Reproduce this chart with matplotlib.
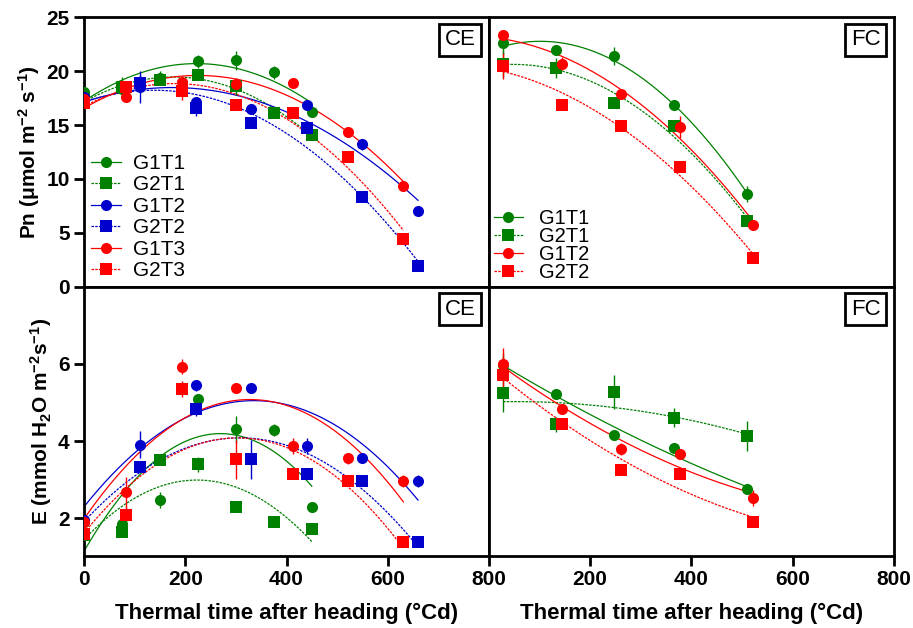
import numpy as np
import matplotlib
matplotlib.use("Agg")
import matplotlib.pyplot as plt
from matplotlib.lines import Line2D

plt.rcParams["font.family"] = ["Liberation Sans", "DejaVu Sans"]
plt.rcParams["mathtext.default"] = "regular"

GREEN = "#008000"
BLUE = "#0000CD"
RED = "#FF0000"

# ── CE: thermal time (°Cd) per temperature treatment ────────────────────────
ce_x_t1 = [0, 75, 150, 225, 300, 375, 450]
ce_x_t2 = [0, 110, 220, 330, 440, 550, 660]
ce_x_t3 = [0, 83, 193, 301, 412, 521, 631]

# Pn CE
pn_ce_g1t1 = [18.1, 18.3, 19.4, 20.9, 21.0, 19.9, 16.2]
pn_ce_g2t1 = [17.3, 18.5, 19.2, 19.6, 18.6, 16.1, 14.1]
pn_ce_g1t2 = [17.6, 18.5, 17.1, 16.5, 16.9, 13.2, 7.0]
pn_ce_g2t2 = [17.2, 18.9, 16.6, 15.2, 14.7, 8.3, 1.9]
pn_ce_g1t3 = [17.4, 17.6, 19.0, 18.8, 18.9, 14.4, 9.3]
pn_ce_g2t3 = [17.0, 18.5, 18.2, 16.9, 16.1, 12.0, 4.45]
pn_ce_err_g1t1 = [0.4, 0.4, 0.6, 0.6, 0.9, 0.6, 0.3]
pn_ce_err_g2t1 = [0.6, 1.0, 0.5, 0.3, 0.8, 0.3, 0.3]
pn_ce_err_g1t2 = [0.3, 1.5, 0.5, 0.3, 0.3, 0.5, 0.4]
pn_ce_err_g2t2 = [0.3, 0.7, 0.8, 0.3, 0.3, 0.3, 0.2]
pn_ce_err_g1t3 = [0.3, 0.3, 0.3, 0.6, 0.3, 0.3, 0.3]
pn_ce_err_g2t3 = [0.3, 0.6, 0.9, 0.3, 0.3, 0.3, 0.3]

# E CE
e_ce_g1t1 = [1.91, 1.85, 2.47, 5.10, 4.30, 4.28, 2.28]
e_ce_g2t1 = [1.57, 1.65, 3.52, 3.40, 2.30, 1.90, 1.72]
e_ce_g1t2 = [1.95, 3.91, 5.44, 5.37, 3.87, 3.55, 2.97]
e_ce_g2t2 = [1.60, 3.33, 4.84, 3.53, 3.14, 2.97, 1.38]
e_ce_g1t3 = [1.90, 2.67, 5.93, 5.37, 3.87, 3.55, 2.97]
e_ce_g2t3 = [1.60, 2.09, 5.35, 3.53, 3.14, 2.97, 1.38]
e_ce_err_g1t1 = [0.1, 0.1, 0.2, 0.1, 0.35, 0.15, 0.1]
e_ce_err_g2t1 = [0.1, 0.1, 0.15, 0.2, 0.1, 0.1, 0.1]
e_ce_err_g1t2 = [0.1, 0.35, 0.15, 0.1, 0.2, 0.1, 0.15]
e_ce_err_g2t2 = [0.1, 0.1, 0.2, 0.5, 0.1, 0.1, 0.1]
e_ce_err_g1t3 = [0.1, 0.4, 0.2, 0.1, 0.2, 0.15, 0.15]
e_ce_err_g2t3 = [0.1, 0.2, 0.2, 0.5, 0.1, 0.1, 0.1]

# ── FC ───────────────────────────────────────────────────────────────────────
fc_x_t1 = [28, 133, 248, 366, 510]
fc_x_t2 = [28, 145, 260, 378, 521]

pn_fc_g1t1 = [22.6, 22.0, 21.4, 16.9, 8.6]
pn_fc_g2t1 = [20.7, 20.3, 17.0, 14.9, 6.1]
pn_fc_g1t2 = [23.4, 20.7, 17.9, 14.8, 5.7]
pn_fc_g2t2 = [20.5, 16.9, 14.9, 11.1, 2.7]
pn_fc_err_g1t1 = [1.0, 0.4, 0.8, 0.4, 0.7]
pn_fc_err_g2t1 = [1.2, 0.9, 0.3, 0.4, 0.3]
pn_fc_err_g1t2 = [0.3, 0.6, 0.3, 1.0, 0.3]
pn_fc_err_g2t2 = [1.2, 0.3, 0.3, 0.3, 0.5]

e_fc_g1t1 = [5.97, 5.21, 4.17, 3.81, 2.76]
e_fc_g2t1 = [5.25, 4.43, 5.27, 4.61, 4.13]
e_fc_g1t2 = [6.00, 4.82, 3.79, 3.66, 2.53]
e_fc_g2t2 = [5.72, 4.43, 3.26, 3.14, 1.90]
e_fc_err_g1t1 = [0.3, 0.1, 0.05, 0.05, 0.05]
e_fc_err_g2t1 = [0.5, 0.2, 0.45, 0.25, 0.4]
e_fc_err_g1t2 = [0.4, 0.1, 0.15, 0.05, 0.2]
e_fc_err_g2t2 = [0.45, 0.05, 0.05, 0.05, 0.05]

DOT = (0, (2, 1))
MS = 8


def draw(ax, x, y, err, color, marker, ls):
    ax.errorbar(x, y, yerr=err, fmt=marker, color=color, ms=MS, mew=0,
                ecolor=color, elinewidth=1, capsize=3.8, capthick=1, zorder=3)
    c = np.polyfit(x, y, 2)
    xs = np.linspace(min(x), max(x), 200)
    ax.plot(xs, np.polyval(c, xs), color=color, lw=0.9, ls=ls, zorder=2)


def handle(color, marker, ls):
    return Line2D([], [], color=color, marker=marker, ms=MS, mew=0, lw=0.9, ls=ls)


def style(ax, label):
    for s in ax.spines.values():
        s.set_linewidth(2)
    ax.set_xlim(0, 800)
    ax.tick_params(width=2, length=7, labelsize=15)
    for t in ax.get_xticklabels() + ax.get_yticklabels():
        t.set_fontweight("bold")
    ax.text(0.967, 0.955, label, transform=ax.transAxes, ha="right", va="top",
            fontsize=16, bbox=dict(boxstyle="square,pad=0.25", fc="white", ec="black", lw=2))


fig = plt.figure(figsize=(9.13, 6.28), dpi=100)
L, M, R = 0.0923, 0.5354, 0.9792
B, MID, T = 0.1151, 0.5435, 0.9725
ax1 = fig.add_axes([L, MID, M - L, T - MID])
ax2 = fig.add_axes([M, MID, R - M, T - MID])
ax3 = fig.add_axes([L, B, M - L, MID - B])
ax4 = fig.add_axes([M, B, R - M, MID - B])

# ── Pn CE ───────────────────────────────────────────────────────────────────
draw(ax1, ce_x_t1, pn_ce_g1t1, pn_ce_err_g1t1, GREEN, "o", "-")
draw(ax1, ce_x_t1, pn_ce_g2t1, pn_ce_err_g2t1, GREEN, "s", DOT)
draw(ax1, ce_x_t2, pn_ce_g1t2, pn_ce_err_g1t2, BLUE, "o", "-")
draw(ax1, ce_x_t2, pn_ce_g2t2, pn_ce_err_g2t2, BLUE, "s", DOT)
draw(ax1, ce_x_t3, pn_ce_g1t3, pn_ce_err_g1t3, RED, "o", "-")
draw(ax1, ce_x_t3, pn_ce_g2t3, pn_ce_err_g2t3, RED, "s", DOT)
ax1.set_ylim(0, 25)
ax1.set_yticks([0, 5, 10, 15, 20, 25])
ax1.set_xticks([])
ax1.set_ylabel("Pn (μmol m$^{-2}$ s$^{-1}$)", fontsize=15, fontweight="bold", labelpad=3)
ax1.legend([handle(GREEN, "o", "-"), handle(GREEN, "s", DOT), handle(BLUE, "o", "-"),
            handle(BLUE, "s", DOT), handle(RED, "o", "-"), handle(RED, "s", DOT)],
           ["G1T1", "G2T1", "G1T2", "G2T2", "G1T3", "G2T3"],
           loc="lower left", bbox_to_anchor=(0.0, 0.0), frameon=False, fontsize=15,
           handlelength=1.45, handletextpad=0.6, labelspacing=0.12, borderpad=0.2,
           borderaxespad=0.1)
style(ax1, "CE")

# ── Pn FC ───────────────────────────────────────────────────────────────────
draw(ax2, fc_x_t1, pn_fc_g1t1, pn_fc_err_g1t1, GREEN, "o", "-")
draw(ax2, fc_x_t1, pn_fc_g2t1, pn_fc_err_g2t1, GREEN, "s", DOT)
draw(ax2, fc_x_t2, pn_fc_g1t2, pn_fc_err_g1t2, RED, "o", "-")
draw(ax2, fc_x_t2, pn_fc_g2t2, pn_fc_err_g2t2, RED, "s", DOT)
ax2.set_ylim(0, 25)
ax2.set_xticks([])
ax2.set_yticks([])
ax2.legend([handle(GREEN, "o", "-"), handle(GREEN, "s", DOT),
            handle(RED, "o", "-"), handle(RED, "s", DOT)],
           ["G1T1", "G2T1", "G1T2", "G2T2"],
           loc="lower left", bbox_to_anchor=(0.0, 0.0), frameon=False, fontsize=14.5,
           handlelength=1.45, handletextpad=0.8, labelspacing=-0.06, borderpad=0.2,
           borderaxespad=0.05)
style(ax2, "FC")

# ── E CE ────────────────────────────────────────────────────────────────────
draw(ax3, ce_x_t1, e_ce_g1t1, e_ce_err_g1t1, GREEN, "o", "-")
draw(ax3, ce_x_t1, e_ce_g2t1, e_ce_err_g2t1, GREEN, "s", DOT)
draw(ax3, ce_x_t2, e_ce_g1t2, e_ce_err_g1t2, BLUE, "o", "-")
draw(ax3, ce_x_t2, e_ce_g2t2, e_ce_err_g2t2, BLUE, "s", DOT)
draw(ax3, ce_x_t3, e_ce_g1t3, e_ce_err_g1t3, RED, "o", "-")
draw(ax3, ce_x_t3, e_ce_g2t3, e_ce_err_g2t3, RED, "s", DOT)
ax3.set_ylim(1.03, 8.0)
ax3.set_yticks([2, 4, 6])
ax3.set_xticks([0, 200, 400, 600, 800])
ax3.set_ylabel("E (mmol H$_2$O m$^{-2}$s$^{-1}$)", fontsize=15, fontweight="bold", labelpad=3)
ax3.set_xlabel("Thermal time after heading (°Cd)", fontsize=16, fontweight="bold", labelpad=10)
style(ax3, "CE")

# ── E FC ────────────────────────────────────────────────────────────────────
draw(ax4, fc_x_t1, e_fc_g1t1, e_fc_err_g1t1, GREEN, "o", "-")
draw(ax4, fc_x_t1, e_fc_g2t1, e_fc_err_g2t1, GREEN, "s", DOT)
draw(ax4, fc_x_t2, e_fc_g1t2, e_fc_err_g1t2, RED, "o", "-")
draw(ax4, fc_x_t2, e_fc_g2t2, e_fc_err_g2t2, RED, "s", DOT)
ax4.set_ylim(1.03, 8.0)
ax4.set_yticks([])
ax4.set_xticks([200, 400, 600, 800])
ax4.set_xlabel("Thermal time after heading (°Cd)", fontsize=16, fontweight="bold", labelpad=10)
style(ax4, "FC")

fig.savefig("out.png", dpi=100)
